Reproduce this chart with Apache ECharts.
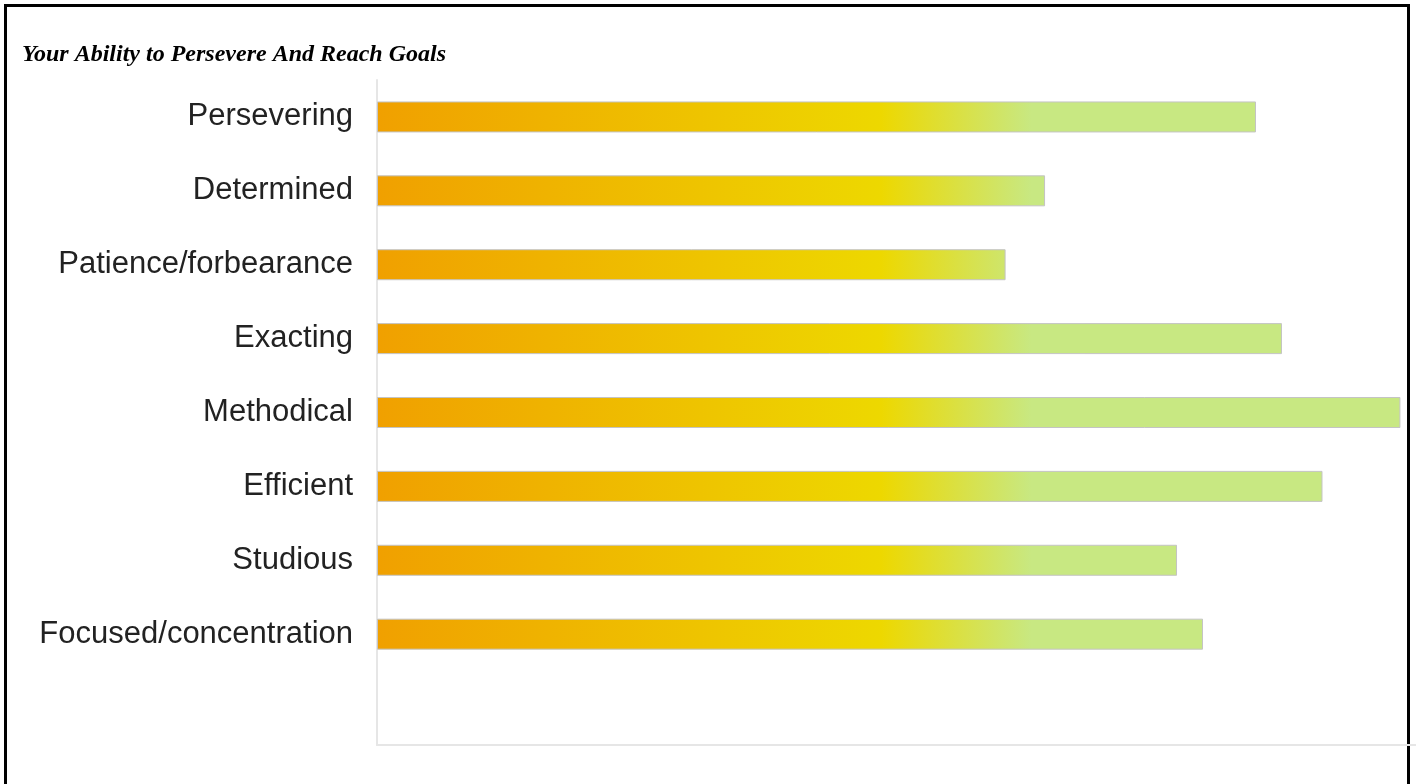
<!DOCTYPE html>
<html>
<head>
<meta charset="utf-8">
<script src="https://cdn.jsdelivr.net/npm/echarts@6/dist/echarts.min.js"></script>
<style>
  html, body { margin: 0; padding: 0; background: #fff; overflow: hidden; }
  #frame { position: absolute; left: 4px; top: 4px; width: 1400px; height: 820px; border: 3px solid #000; box-sizing: content-box; }
  #chart { position: absolute; left: 0; top: 0; width: 1416px; height: 784px; }
</style>
</head>
<body>
<div id="frame"></div>
<div id="chart"></div>
<script>
const titleText = 'Your Ability to Persevere And Reach Goals';
const categories = ['Persevering', 'Determined', 'Patience/forbearance', 'Exacting', 'Methodical', 'Efficient', 'Studious', 'Focused/concentration', ''];
const values = [84.6, 64.3, 60.5, 87.1, 98.5, 91.0, 77.0, 79.5, null];
const axisMax = 100;

const chart = echarts.init(document.getElementById('chart'), null, { renderer: 'canvas' });
const gridLeft = 377, gridRight = 0;
const barGradient = new echarts.graphic.LinearGradient(gridLeft, 0, 1416, 0, [
  { offset: 0, color: '#F0A000' },
  { offset: 0.485, color: '#EDD800' },
  { offset: 0.63, color: '#C8E882' },
  { offset: 1, color: '#C8E882' }
], true);

chart.setOption({
  backgroundColor: 'transparent',
  animation: false,
  title: {
    text: titleText,
    left: 17,
    top: 38,
    textStyle: {
      fontFamily: '"Liberation Serif", "Times New Roman", serif',
      fontStyle: 'italic',
      fontWeight: 'bold',
      fontSize: 24,
      color: '#000'
    }
  },
  grid: { left: gridLeft, right: gridRight, top: 80, bottom: 39, containLabel: false },
  xAxis: {
    type: 'value',
    min: 0,
    max: axisMax,
    axisLine: { show: true, lineStyle: { color: '#e6e6e6', width: 2 } },
    axisTick: { show: false },
    axisLabel: { show: false },
    splitLine: { show: false }
  },
  yAxis: {
    type: 'category',
    inverse: true,
    data: categories,
    axisLine: { show: true, lineStyle: { color: '#e6e6e6', width: 2 } },
    axisTick: { show: false },
    axisLabel: {
      margin: 24,
      fontFamily: '"Liberation Sans", Arial, sans-serif',
      fontSize: 31,
      color: '#222'
    }
  },
  series: [{
    type: 'bar',
    data: values,
    barWidth: 31,
    itemStyle: {
      color: barGradient,
      borderColor: '#c4c4c4',
      borderWidth: 1
    }
  }]
});
</script>
</body>
</html>
